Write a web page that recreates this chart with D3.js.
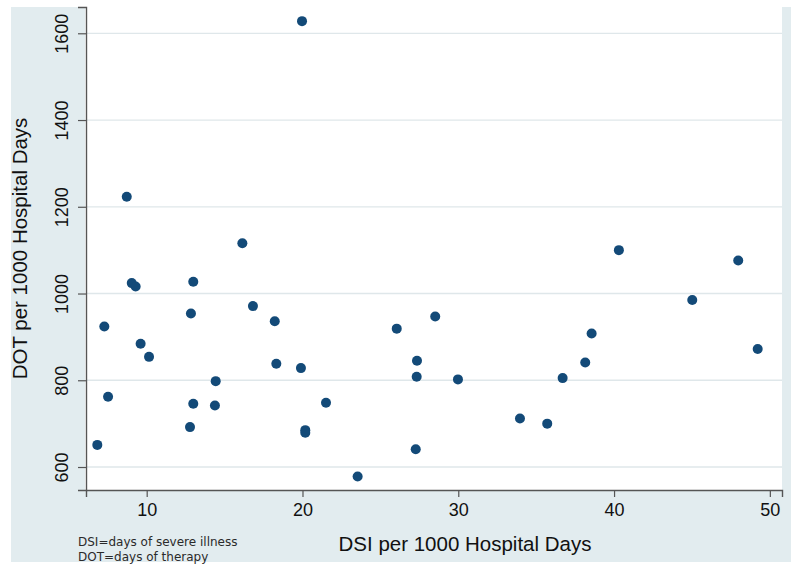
<!DOCTYPE html>
<html>
<head>
<meta charset="utf-8">
<script src="https://cdn.jsdelivr.net/npm/d3@7"></script>
<style>
    body { margin: 0; background: #ffffff; }
    svg { display: block; }
    .tick-label { font-family: "Liberation Sans", Arial, sans-serif; font-size: 18px; fill: #111; }
    .axis-title { font-family: "Liberation Sans", Arial, sans-serif; font-size: 20.5px; fill: #111; }
    .note { font-family: "DejaVu Sans", sans-serif; font-size: 12px; fill: #2a2a2a; }
</style>
</head>
<body>
<svg id="svg"></svg>
<script>
// DSI per 1000 hospital days (x) vs DOT per 1000 hospital days (y)
const dsi = [6.83, 7.28, 7.52, 8.72, 9.04, 9.29, 9.61, 10.15, 12.78, 12.84, 12.99, 12.99,
    14.38, 14.43, 16.14, 16.82, 18.22, 18.32, 19.9, 19.97, 20.18, 20.18, 21.51, 23.54,
    26.05, 27.27, 27.33, 27.35, 28.52, 29.98, 33.96, 35.71, 36.7, 38.15, 38.56, 40.31,
    45.02, 47.97, 49.22];
const dot = [651, 924, 762, 1223, 1024, 1016, 884, 854, 692, 954, 1027, 746,
    742, 798, 1116, 971, 936, 838, 828, 1628, 685, 679, 748, 578,
    919, 641, 808, 845, 947, 802, 712, 700, 805, 841, 908, 1100,
    985, 1076, 872];
const xTicks = [10, 20, 30, 40, 50];
const yTicks = [600, 800, 1000, 1200, 1400, 1600];
const xTitle = 'DSI per 1000 Hospital Days';
const yTitle = 'DOT per 1000 Hospital Days';
const notes = ['DSI=days of severe illness', 'DOT=days of therapy'];

const width = 791, height = 566;
const plot = {left: 86, right: 782, top: 7, bottom: 490};

const svg = d3.select('#svg')
    .attr('width', width)
    .attr('height', height);

// outer graph region
svg.append('rect')
    .attr('x', 11).attr('y', 7)
    .attr('width', width - 11).attr('height', 555)
    .attr('fill', '#e2ecef');

svg.append('rect')
    .attr('x', plot.left - 1).attr('y', plot.top)
    .attr('width', plot.right - plot.left + 1).attr('height', plot.bottom - plot.top)
    .attr('fill', '#ffffff');

const xScale = d3.scaleLinear()
    .domain([6.104, 50.78])
    .range([plot.left, plot.right]);
const yScale = d3.scaleLinear()
    .domain([547, 1660.6])
    .range([plot.bottom, plot.top]);

// grid lines
svg.append('g')
    .selectAll('line')
    .data(yTicks)
    .join('line')
    .attr('x1', plot.left).attr('x2', plot.right)
    .attr('y1', d => yScale(d)).attr('y2', d => yScale(d))
    .attr('stroke', '#dfe7ea')
    .attr('stroke-width', 1.3);

// axes
const xAxis = d3.axisBottom(xScale).tickValues(xTicks).tickFormat(d3.format('d')).tickSize(7).tickPadding(4);
const yAxis = d3.axisLeft(yScale).tickValues(yTicks).tickFormat(d3.format('d')).tickSize(8).tickPadding(4);

const gx = svg.append('g')
    .attr('transform', 'translate(0,' + plot.bottom + ')')
    .call(xAxis);
const gy = svg.append('g')
    .attr('transform', 'translate(' + plot.left + ',0)')
    .call(yAxis);

[gx, gy].forEach(g => {
    g.attr('font-size', null).attr('font-family', null);
    g.select('.domain').attr('stroke', '#555').attr('stroke-width', 1.4);
    g.selectAll('.tick line').attr('stroke', '#555').attr('stroke-width', 1.2);
    g.selectAll('.tick text').attr('class', 'tick-label');
});

gx.selectAll('.tick text').attr('y', 13);

// y labels turned vertical
gy.selectAll('.tick text')
    .attr('x', null).attr('dy', null)
    .attr('text-anchor', 'middle')
    .attr('transform', 'translate(-18,0) rotate(-90)');

// titles
svg.append('text')
    .attr('class', 'axis-title')
    .attr('x', 465)
    .attr('y', 551)
    .attr('text-anchor', 'middle')
    .text(xTitle);

svg.append('text')
    .attr('class', 'axis-title')
    .attr('transform', 'translate(27,' + ((plot.top + plot.bottom) / 2) + ') rotate(-90)')
    .attr('text-anchor', 'middle')
    .text(yTitle);

// notes
svg.append('g')
    .selectAll('text')
    .data(notes)
    .join('text')
    .attr('class', 'note')
    .attr('x', 78)
    .attr('y', (d, i) => 546 + i * 15)
    .text(d => d);

// points
const points = dsi.map((d, i) => ({x: d, y: dot[i]}));
svg.append('g')
    .selectAll('circle')
    .data(points)
    .join('circle')
    .attr('cx', d => xScale(d.x))
    .attr('cy', d => yScale(d.y))
    .attr('r', 5)
    .attr('fill', '#134a78');
</script>
</body>
</html>
